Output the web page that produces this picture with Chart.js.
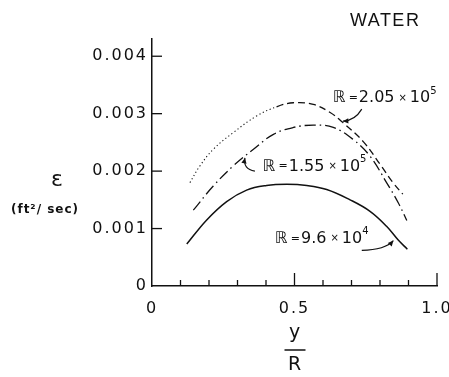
<!DOCTYPE html>
<html><head><meta charset="utf-8">
<script src="https://cdn.jsdelivr.net/npm/chart.js@4/dist/chart.umd.min.js"></script>
<style>html,body{margin:0;padding:0;background:#fff;}canvas{display:block;}</style>
</head><body>
<canvas id="c" width="449" height="377"></canvas>
<script>
// y/R positions and eddy diffusivity values (ft^2/sec) for each Reynolds number
const yR_205 = [0.133,0.168,0.215,0.285,0.367,0.437,0.496,0.566,0.625,0.671,0.742,0.800,0.847,0.880];
const eps_205 = [0.00180,0.00209,0.00238,0.00267,0.00296,0.00312,0.00319,0.00316,0.00302,0.00284,0.00251,0.00212,0.00179,0.00160];
const yR_155 = [0.145,0.215,0.285,0.356,0.426,0.496,0.566,0.636,0.706,0.765,0.823,0.864,0.894];
const eps_155 = [0.00132,0.00174,0.00209,0.00238,0.00264,0.00276,0.00280,0.00276,0.00255,0.00226,0.00180,0.00145,0.00114];
const yR_96 = [0.122,0.192,0.262,0.332,0.402,0.473,0.543,0.613,0.695,0.765,0.823,0.864,0.896];
const eps_96 = [0.00073,0.00115,0.00147,0.00167,0.00175,0.00177,0.00175,0.00168,0.00150,0.00130,0.00104,0.00080,0.00064];
const xTickLabels = {"0":"0","0.5":"0.5","1":"1.0"};
const yTickValues = [0,0.001,0.002,0.003,0.004];
const yTickLabels = ["0","0.001","0.002","0.003","0.004"];
const seriesLabels = ["2.05","1.55","9.6"];
const seriesExp = ["5","5","4"];

const pts = (xs, ys) => xs.map((x,i)=>({x:x, y:ys[i]}));
const INK = '#111';

const annotations = {
  labels: [
    {x:0.635, y:0.00327, idx:0},
    {x:0.389, y:0.00208, idx:1},
    {x:0.432, y:0.00082, idx:2}
  ],
  arrows: [
    {from:[0.736,0.00308], ctrl:[0.712,0.00288], to:[0.670,0.00287]},
    {from:[0.361,0.00200], ctrl:[0.319,0.00203], to:[0.326,0.00223]},
    {from:[0.736,0.00062], ctrl:[0.818,0.00063], to:[0.847,0.00079]}
  ]
};

const plugin = {
  id:'deco',
  beforeDraw(chart){ chart.ctx.letterSpacing = '2px'; },
  afterDraw(chart){
    const ctx = chart.ctx, xs = chart.scales.x, ys = chart.scales.y, a = chart.chartArea;
    ctx.save();
    ctx.letterSpacing = '0px';
    ctx.strokeStyle = INK; ctx.fillStyle = INK; ctx.lineWidth = 1.3;
    const line=(x1,y1,x2,y2)=>{ctx.beginPath();ctx.moveTo(x1,y1);ctx.lineTo(x2,y2);ctx.stroke();};
    xs.ticks.forEach(t=>{
      const v = Math.round(t.value*10)/10; if (v===0) return;
      const px = xs.getPixelForValue(t.value);
      const len = (v===0.5||v===1)?13:6;
      line(px,a.bottom,px,a.bottom-len);
    });
    ys.ticks.forEach(t=>{
      if (Math.abs(t.value)<1e-9) return;
      const py = ys.getPixelForValue(t.value);
      line(a.left,py,a.left+10,py);
    });
    // arrows
    const P = (d)=>({x:xs.getPixelForValue(d[0]), y:ys.getPixelForValue(d[1])});
    ctx.lineWidth = 1.2;
    annotations.arrows.forEach(ar=>{
      const p0=P(ar.from), c=P(ar.ctrl), p1=P(ar.to);
      ctx.beginPath(); ctx.moveTo(p0.x,p0.y); ctx.quadraticCurveTo(c.x,c.y,p1.x,p1.y); ctx.stroke();
      const ang = Math.atan2(p1.y-c.y, p1.x-c.x), L=6;
      ctx.beginPath(); ctx.moveTo(p1.x,p1.y);
      ctx.lineTo(p1.x-L*Math.cos(ang-0.45), p1.y-L*Math.sin(ang-0.45));
      ctx.lineTo(p1.x-L*Math.cos(ang+0.45), p1.y-L*Math.sin(ang+0.45));
      ctx.closePath(); ctx.fill();
    });
    // rich labels
    ctx.textBaseline = 'middle'; ctx.textAlign = 'left';
    ctx.letterSpacing = '0px';
    const rich=(x,y,parts)=>{ let cx=x; parts.forEach(p=>{ ctx.font=(p.w||'normal')+' '+p.s+'px "DejaVu Sans"'; ctx.fillText(p.t,cx,y+(p.dy||0)); cx+=ctx.measureText(p.t).width+(p.gap||0); }); };
    annotations.labels.forEach(l=>{
      const p = P([l.x,l.y]);
      rich(p.x,p.y,[
        {t:'ℝ',s:16,gap:3},{t:'=',s:11,gap:1},{t:seriesLabels[l.idx],s:16,gap:4},
        {t:'×',s:10,gap:3},{t:'10',s:16,gap:0},{t:seriesExp[l.idx],s:10,dy:-7}
      ]);
    });
    // WATER
    ctx.letterSpacing = '1.5px';
    ctx.textAlign = 'center';
    ctx.font = '18px "Liberation Sans"';
    ctx.fillText('WATER', xs.getPixelForValue(0.818), 21);
    // y title
    ctx.letterSpacing = '0px';
    ctx.font = '22px "DejaVu Sans"';
    ctx.fillText('ε', 57, 180);
    ctx.letterSpacing = '1px';
    ctx.font = 'bold 12px "DejaVu Sans"';
    ctx.fillText('(ft²/ sec)', 45, 210);
    // x title fraction
    const xm = xs.getPixelForValue(0.5);
    ctx.letterSpacing = '0px';
    ctx.font = '19px "DejaVu Sans"';
    ctx.fillText('y', xm, 333);
    ctx.lineWidth = 1.5;
    line(xm-10, 350, xm+11, 350);
    ctx.fillText('R', xm, 365);
    ctx.restore();
  }
};

new Chart(document.getElementById('c'), {
  type:'line',
  data:{ datasets:[
    { label:'R = 2.05 x 10^5', data:pts(yR_205,eps_205), borderColor:INK, borderWidth:1.3, pointRadius:0,
      tension:0.4, fill:false,
      segment:{ borderDash: c => c.p0.parsed.x < 0.37 ? [1.2,2.6] : [7,4],
                borderWidth: c => c.p0.parsed.x < 0.37 ? 1.1 : 1.3 } },
    { label:'R = 1.55 x 10^5', data:pts(yR_155,eps_155), borderColor:INK, borderWidth:1.3, pointRadius:0,
      tension:0.4, fill:false, borderDash:[11,4,1.5,4] },
    { label:'R = 9.6 x 10^4', data:pts(yR_96,eps_96), borderColor:INK, borderWidth:1.5, pointRadius:0,
      tension:0.4, fill:false }
  ]},
  plugins:[plugin],
  options:{
    responsive:false, animation:false, devicePixelRatio:1,
    layout:{ padding:{ top:39, right:12, left:0, bottom:0 } },
    plugins:{ legend:{display:false}, tooltip:{enabled:false} },
    scales:{
      x:{ type:'linear', min:0, max:1,
        afterFit: s => { s.height = 91; s.paddingLeft = 0; s.paddingRight = 0; },
        grid:{ display:false, drawTicks:false },
        border:{ display:true, color:INK, width:1.5 },
        ticks:{ stepSize:0.1, autoSkip:false, maxRotation:0, padding:13, color:INK,
          font:{ family:'DejaVu Sans', size:16 },
          callback: v => { const k = String(Math.round(v*10)/10); return xTickLabels[k] !== undefined ? xTickLabels[k] : ''; } } },
      y:{ type:'linear', min:0, max:0.0043,
        afterFit: s => { s.width = 152; s.paddingTop = 0; s.paddingBottom = 0; },
        afterBuildTicks: s => { s.ticks = yTickValues.map(v => ({value:v})); },
        grid:{ display:false, drawTicks:false },
        border:{ display:true, color:INK, width:1.5 },
        ticks:{ padding:4, color:INK,
          font:{ family:'DejaVu Sans', size:16 },
          callback: (v, i) => yTickLabels[i] } }
    }
  }
});
</script>
</body></html>
